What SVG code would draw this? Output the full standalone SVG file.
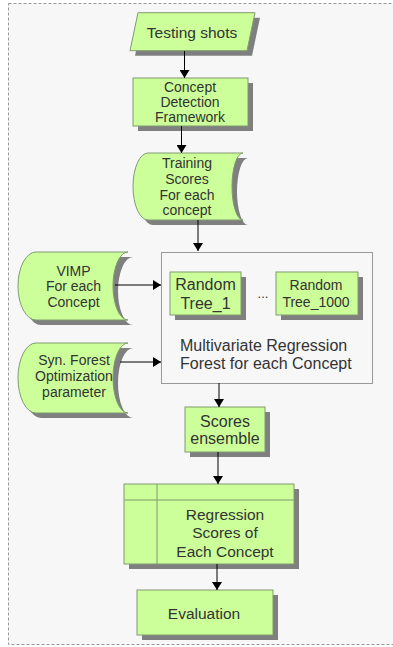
<svg xmlns="http://www.w3.org/2000/svg" width="393" height="647" viewBox="0 0 393 647">
<defs>
<marker id="ah" markerWidth="8" markerHeight="10" refX="8" refY="5" orient="auto" markerUnits="userSpaceOnUse">
<path d="M0,0 L8,5 L0,10 Z" fill="#000"/>
</marker>
<style>
.sh{fill:#7f7f7f;}
.nd{fill:#ccff99;stroke:#809a70;stroke-width:1;}
.t{font-family:"Liberation Sans",Arial,sans-serif;fill:#333;text-anchor:middle;}
.c{stroke:#000;stroke-width:1;fill:none;marker-end:url(#ah);}
</style>
</defs>
<rect x="0" y="0" width="393" height="647" fill="#fff"/>
<rect x="8.5" y="3.5" width="400" height="641" fill="#f7f7f7" stroke="#999" stroke-dasharray="3,2"/>

<g id="testing-shots">
<polygon class="sh" points="143,17.7 260,17.7 252,55.7 135,55.7"/>
<polygon class="nd" points="138,12.7 255,12.7 247,50.7 130,50.7"/>
<text class="t" x="192" y="38" font-size="15.5">Testing shots</text>
</g>

<g id="concept-detection">
<rect class="sh" x="138" y="83" width="115" height="48"/>
<rect class="nd" x="133" y="78" width="115" height="48"/>
<text class="t" x="190" y="92" font-size="14">Concept</text>
<text class="t" x="190" y="107" font-size="14">Detection</text>
<text class="t" x="190" y="122" font-size="14">Framework</text>
</g>

<g id="training-scores">
<path class="sh" d="M153,158 H248 A11,33.5 0 0 0 248,225 H153 A15,33.5 0 0 1 153,158 Z"/>
<path class="nd" d="M148,153 H243 A11,33.5 0 0 0 243,220 H148 A15,33.5 0 0 1 148,153 Z"/>
<text class="t" x="187" y="168" font-size="14">Training</text>
<text class="t" x="187" y="184" font-size="14">Scores</text>
<text class="t" x="187" y="200" font-size="14">For each</text>
<text class="t" x="187" y="215" font-size="14">concept</text>
</g>

<g id="forest">
<rect x="161.5" y="252.5" width="211" height="131" fill="#f7f7f7" stroke="#999" stroke-width="1"/>
<text class="t" x="180" y="351" font-size="16" text-anchor="start" style="text-anchor:start">Multivariate Regression</text>
<text class="t" x="180" y="369" font-size="16" text-anchor="start" style="text-anchor:start">Forest for each Concept</text>
<text class="t" x="263" y="298" font-size="13">...</text>
</g>

<g id="random-tree-1">
<rect class="sh" x="175" y="277" width="71" height="43"/>
<rect class="nd" x="170" y="272" width="71" height="43"/>
<text class="t" x="205.5" y="290" font-size="16">Random</text>
<text class="t" x="205.5" y="309" font-size="16">Tree_1</text>
</g>

<g id="random-tree-1000">
<rect class="sh" x="281" y="277" width="82" height="43"/>
<rect class="nd" x="276" y="272" width="82" height="43"/>
<text class="t" x="316" y="290" font-size="14">Random</text>
<text class="t" x="316" y="307" font-size="14">Tree_1000</text>
</g>

<g id="vimp">
<path class="sh" d="M41,257 H133 A15,34 0 0 0 133,325 H41 A18,34 0 0 1 41,257 Z"/>
<path class="nd" d="M36,252 H128 A15,34 0 0 0 128,320 H36 A18,34 0 0 1 36,252 Z"/>
<text class="t" x="73.5" y="276" font-size="14">VIMP</text>
<text class="t" x="73.5" y="291" font-size="14">For each</text>
<text class="t" x="73.5" y="307" font-size="14">Concept</text>
</g>

<g id="syn-forest">
<path class="sh" d="M41,348 H133 A15,35 0 0 0 133,418 H41 A18,35 0 0 1 41,348 Z"/>
<path class="nd" d="M36,343 H128 A15,35 0 0 0 128,413 H36 A18,35 0 0 1 36,343 Z"/>
<text class="t" x="74" y="365" font-size="14">Syn. Forest</text>
<text class="t" x="74" y="381" font-size="14">Optimization</text>
<text class="t" x="74" y="397" font-size="14">parameter</text>
</g>

<g id="scores-ensemble">
<rect class="sh" x="190" y="412" width="80" height="45"/>
<rect class="nd" x="185" y="407" width="80" height="45"/>
<text class="t" x="225" y="427" font-size="16">Scores</text>
<text class="t" x="225" y="444" font-size="16">ensemble</text>
</g>

<g id="regression-scores">
<rect class="sh" x="129" y="489" width="170" height="80"/>
<rect class="nd" x="124" y="484" width="170" height="80"/>
<line x1="124" y1="500" x2="294" y2="500" stroke="#809a70"/>
<line x1="157" y1="484" x2="157" y2="564" stroke="#809a70"/>
<text class="t" x="225" y="519.5" font-size="15.5">Regression</text>
<text class="t" x="225" y="537.5" font-size="15.5">Scores of</text>
<text class="t" x="225" y="556.5" font-size="15.5">Each Concept</text>
</g>

<g id="evaluation">
<rect class="sh" x="142" y="595" width="136" height="45"/>
<rect class="nd" x="137" y="590" width="136" height="45"/>
<text class="t" x="204" y="618.5" font-size="15.5">Evaluation</text>
</g>

<g id="connectors">
<line class="c" x1="184.5" y1="51" x2="184.5" y2="78"/>
<line class="c" x1="181.5" y1="126" x2="181.5" y2="153"/>
<line class="c" x1="198" y1="220" x2="198" y2="251"/>
<line class="c" x1="115" y1="285" x2="161" y2="285"/>
<line class="c" x1="120" y1="362" x2="161" y2="362"/>
<line class="c" x1="219" y1="383" x2="219" y2="407"/>
<line class="c" x1="218" y1="452" x2="218" y2="484"/>
<line class="c" x1="217" y1="564" x2="217" y2="590"/>
</g>
</svg>
